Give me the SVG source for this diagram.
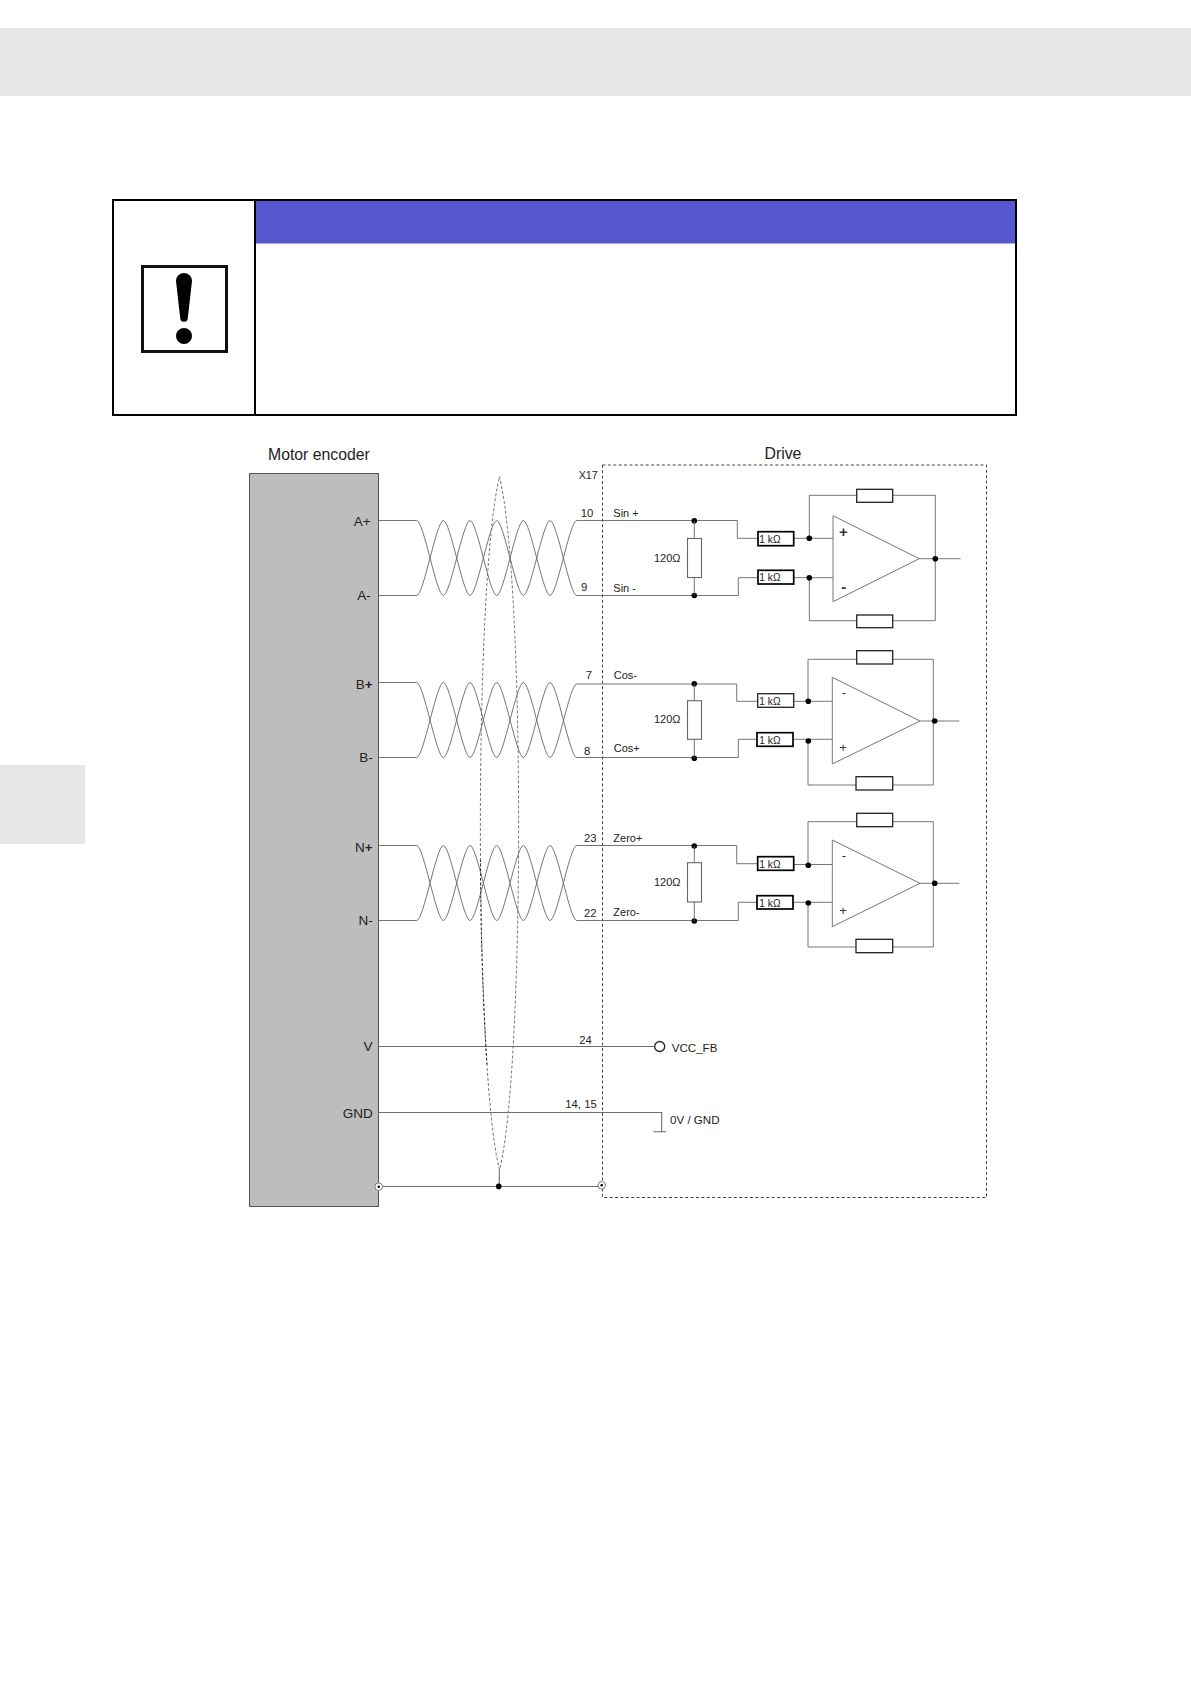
<svg xmlns="http://www.w3.org/2000/svg" width="1191" height="1684" viewBox="0 0 1191 1684">
<style>
text{font-family:"Liberation Sans",Arial,sans-serif;fill:#222}
.w{fill:none;stroke:#6e6e6e;stroke-width:1.1}
.t{fill:none;stroke:#666;stroke-width:.9}
.d{fill:#000;stroke:none}
.r{fill:#fff;stroke:#222;stroke-width:1.3}
.rk{fill:#fff;stroke:#000;stroke-width:1.7}
.rt{fill:#fff;stroke:#666;stroke-width:1.1}
.o{fill:none;stroke:#777;stroke-width:1}
.pin{font-size:13.5px;text-anchor:end}
.num{font-size:11.3px}
.sig{font-size:11px}
.lg{font-size:11.6px}
.k{font-size:10.2px}
.oh{font-size:11px}
.sg{font-size:13px;text-anchor:middle;fill:#333}
.sb{font-size:15px;font-weight:bold;text-anchor:middle;fill:#333}
.h{font-size:15.8px}
</style>
<rect width="1191" height="1684" fill="#fff"/>
<g id="page-decor">
<rect x="0" y="28" width="1191" height="68" fill="#e6e6e6"/>
<rect x="0" y="765" width="85" height="79" fill="#e6e6e6"/>
</g>
<g id="notice-box">
<rect x="256" y="201" width="759" height="42.500" fill="#5757d0"/>
<rect x="113" y="200" width="903" height="215" fill="none" stroke="#000" stroke-width="2"/>
<line x1="255" y1="200" x2="255" y2="415" stroke="#000" stroke-width="2"/>
<rect x="142.500" y="266.500" width="84" height="85" fill="#fff" stroke="#111" stroke-width="3"/>
<path d="M176,281 A8,8 0 0 1 192,281 L187.800,318 A3.800,3.800 0 0 1 180.200,318 Z" fill="#000"/>
<circle cx="184" cy="336" r="8" fill="#000"/>
</g>
<g id="motor-encoder">
<rect x="249.500" y="473.500" width="129" height="733" fill="#bdbdbd" stroke="#555" stroke-width="1"/>
<text class="h" x="268" y="460">Motor encoder</text>
<text class="pin" x="370.700" y="525.700">A+</text>
<text class="pin" x="370.700" y="600.300">A-</text>
<text class="pin" x="372.700" y="689">B<tspan font-weight="bold">+</tspan></text>
<text class="pin" x="372.700" y="762.300">B-</text>
<text class="pin" x="372.700" y="851.700">N<tspan font-weight="bold">+</tspan></text>
<text class="pin" x="372.700" y="925">N-</text>
<text class="pin" x="372.500" y="1051">V</text>
<text class="pin" x="372.700" y="1117.700">GND</text>
</g>
<g id="drive">
<rect x="602.500" y="465" width="384" height="732.500" fill="none" stroke="#444" stroke-width="1" stroke-dasharray="3 2.400"/>
<text class="h" x="764.500" y="459">Drive</text>
<text class="num" x="578.700" y="479" style="font-size:10.700px">X17</text>
</g>
<g id="connectors">
<path class="t" d="M378.500,520.500H416.700c7,0 19.670,75 26.670,75s19.670,-75 26.670,-75s19.670,75 26.670,75s19.670,-75 26.670,-75s19.670,75 26.670,75s19.670,-75 26.670,-75H737.300V538.300H758"/>
<path class="t" d="M378.500,595.500H416.700c7,0 19.670,-75 26.670,-75s19.670,75 26.670,75s19.670,-75 26.670,-75s19.670,75 26.670,75s19.670,-75 26.670,-75s19.670,75 26.670,75H738.300V577.700H758"/>
<path class="t" d="M378.500,682.500H416.700c7,0 19.670,75 26.670,75s19.670,-75 26.670,-75s19.670,75 26.670,75s19.670,-75 26.670,-75s19.670,75 26.670,75c7,0 19.670,-73.500 26.670,-73.500H736.700V701.300H758"/>
<path class="t" d="M378.500,757.500H416.700c7,0 19.670,-75 26.670,-75s19.670,75 26.670,75s19.670,-75 26.670,-75s19.670,75 26.670,75s19.670,-75 26.670,-75s19.670,75 26.670,75H738.300V739.300H758"/>
<path class="t" d="M378.500,845.500H416.700c7,0 19.670,75 26.670,75s19.670,-75 26.670,-75s19.670,75 26.670,75s19.670,-75 26.670,-75s19.670,75 26.670,75s19.670,-75 26.670,-75H736.700V863.700H758"/>
<path class="t" d="M378.500,920.500H416.700c7,0 19.670,-75 26.670,-75s19.670,75 26.670,75s19.670,-75 26.670,-75s19.670,75 26.670,75s19.670,-75 26.670,-75s19.670,75 26.670,75H738.300V902.300H758"/>
<path class="w" d="M379,1046.500H654.500M378.500,1112.500H661.700V1131.700M653.300,1131.700H666M378.500,1186.500H601.500M499.300,1186.500V1170"/>
<path fill="none" stroke="#777" stroke-width="1" stroke-dasharray="3 2" d="M499.500,1170C474,1070 474,580 499.500,476.700C525,580 525,1070 499.500,1170"/>
<path fill="none" stroke="#222" stroke-width="1" stroke-dasharray="2 2.500" d="M480.500,860C480.500,930 483,1000 487,1065"/>
<g id="wire-dots">
<circle class="d" cx="694.300" cy="520.700" r="2.800"/><circle class="d" cx="694.300" cy="595.500" r="2.800"/>
<circle class="d" cx="694.300" cy="683.700" r="2.800"/><circle class="d" cx="694.300" cy="758.300" r="2.800"/>
<circle class="d" cx="694.300" cy="846" r="2.800"/><circle class="d" cx="694.300" cy="921" r="2.800"/>
<circle class="d" cx="498.700" cy="1186.400" r="2.800"/>
</g>
</g>
<g id="pin-labels">
<text class="num" x="580.700" y="517">10</text>
<text class="num" x="581" y="590.700">9</text>
<text class="num" x="585.700" y="679">7</text>
<text class="num" x="584" y="755">8</text>
<text class="num" x="584" y="842.300">23</text>
<text class="num" x="584" y="916.700">22</text>
<text class="num" x="579.300" y="1044">24</text>
<text class="num" x="565.300" y="1108">14, 15</text>
<text class="sig" x="613.300" y="516.700">Sin +</text>
<text class="sig" x="613.300" y="591.700">Sin -</text>
<text class="sig" x="613.700" y="679">Cos-</text>
<text class="sig" x="613.700" y="752">Cos+</text>
<text class="sig" x="613.300" y="842.300">Zero+</text>
<text class="sig" x="613.300" y="915.700">Zero-</text>
</g>
<g id="vcc-fb">
<circle cx="659.700" cy="1046.500" r="5" fill="#fff" stroke="#222" stroke-width="1.300"/>
<text class="lg" x="671.700" y="1051.700">VCC_FB</text>
</g>
<g id="gnd-label"><text class="lg" x="670" y="1124">0V / GND</text></g>
<g id="shield-left"><circle cx="378.700" cy="1186.700" r="3.800" fill="#fff" stroke="#777"/><circle class="d" cx="378.700" cy="1186.700" r="1.300"/></g>
<g id="shield-right"><circle cx="601.700" cy="1185.300" r="3.800" fill="#fff" stroke="#777"/><circle class="d" cx="601.700" cy="1185.300" r="1.300"/></g>
<g id="channel-sin">
<line class="t" x1="694.300" y1="520.700" x2="694.300" y2="595.500"/>
<rect class="rt" x="687.500" y="538.500" width="14" height="39"/>
<text class="oh" x="654" y="562">120Ω</text>
<path class="o" d="M793.700,538.300H833M793.700,577.700H833M809.300,538.300V495.300H935.300V620.700H809.300V577.700M919.300,558.700H960.700"/>
<polygon points="833,515.700 833,601.700 919.300,558.700" fill="#fff" stroke="#777" stroke-width="1"/>
<rect class="rk" x="758" y="531.700" width="35.700" height="14"/><text class="k" x="759.300" y="542.700">1 kΩ</text>
<rect class="rk" x="758" y="570.300" width="35.700" height="13.700"/><text class="k" x="759.300" y="581.300">1 kΩ</text>
<rect class="r" x="856.700" y="489.300" width="36" height="13"/>
<rect class="r" x="856.700" y="615" width="36" height="12.700"/>
<circle class="d" cx="809.300" cy="538.300" r="2.800"/><circle class="d" cx="809.300" cy="577.700" r="2.800"/><circle class="d" cx="935.300" cy="558.700" r="2.800"/>
<text class="sb" x="843.300" y="536.800">+</text><text class="sb" x="843.700" y="591.500">-</text>
</g>
<g id="channel-cos">
<line class="t" x1="694.300" y1="683.700" x2="694.300" y2="758.300"/>
<rect class="rt" x="687.500" y="700.700" width="14" height="38.600"/>
<text class="oh" x="654" y="723">120Ω</text>
<path class="o" d="M793.700,701.300H832.300M793.700,739.300H832.300M808,701.300V659.300H933.300V785H808V741M920,721H959.300"/>
<polygon points="832.300,677.300 832.300,764 920,721" fill="#fff" stroke="#777" stroke-width="1"/>
<rect class="r" x="757.700" y="693.700" width="36" height="13.600"/><text class="k" x="759.300" y="704.500">1 kΩ</text>
<rect class="rk" x="757" y="732.700" width="36" height="13.600"/><text class="k" x="759.300" y="743.500">1 kΩ</text>
<rect class="r" x="856.700" y="650.700" width="36" height="13.300"/>
<rect class="r" x="856" y="776.700" width="36.700" height="13.300"/>
<circle class="d" cx="808.300" cy="701.300" r="2.800"/><circle class="d" cx="808.300" cy="741" r="2.800"/><circle class="d" cx="934.700" cy="721" r="2.800"/>
<text class="sg" x="844" y="697">-</text><text class="sg" x="843" y="751.500">+</text>
</g>
<g id="channel-zero">
<line class="t" x1="694.300" y1="846" x2="694.300" y2="921"/>
<rect class="rt" x="687.500" y="862.700" width="14" height="39.300"/>
<text class="oh" x="654" y="886">120Ω</text>
<path class="o" d="M793.700,864.500H832.300M793.700,902.300H832.300M808,864.500V821.700H933.300V947H808V903M920,883.300H959.300"/>
<polygon points="832.300,840 832.300,926.700 920,883.300" fill="#fff" stroke="#777" stroke-width="1"/>
<rect class="rk" x="757.700" y="856.700" width="36" height="13.600"/><text class="k" x="759.300" y="867.500">1 kΩ</text>
<rect class="rk" x="757" y="895.700" width="36" height="13.300"/><text class="k" x="759.300" y="906.500">1 kΩ</text>
<rect class="r" x="856.700" y="813.300" width="36" height="13.400"/>
<rect class="r" x="856" y="939.300" width="36.700" height="13.400"/>
<circle class="d" cx="808.300" cy="865.300" r="2.800"/><circle class="d" cx="808.300" cy="903" r="2.800"/><circle class="d" cx="934.700" cy="883.300" r="2.800"/>
<text class="sg" x="844" y="859.500">-</text><text class="sg" x="843" y="914.500">+</text>
</g>
</svg>
